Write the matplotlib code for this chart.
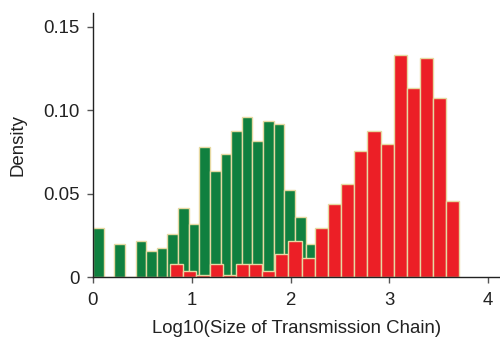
import numpy as np
import matplotlib.pyplot as plt

plt.rcParams['font.family'] = ['Liberation Sans', 'DejaVu Sans']

# green histogram: 21 bins over [0, 2.26]
green_edges = np.linspace(0, 2.26, 22)
green_vals = [0.0294, 0.0, 0.0196, 0.0, 0.0214, 0.0156, 0.0176, 0.0258, 0.0414,
              0.0318, 0.0776, 0.0636, 0.0736, 0.0876, 0.0956, 0.0816, 0.0936,
              0.0916, 0.052, 0.036, 0.020]

# red histogram: 22 bins over [0.78, 3.71]
red_edges = np.linspace(0.78, 3.71, 23)
red_vals = [0.0076, 0.0036, 0.0014, 0.0076, 0.0014, 0.0076, 0.0076, 0.0036,
            0.0136, 0.0216, 0.0116, 0.0296, 0.0436, 0.0554, 0.0754, 0.0874,
            0.0794, 0.1332, 0.1132, 0.1312, 0.1072, 0.0456]

xticks = [0, 1, 2, 3, 4]
yticks = [0, 0.05, 0.10, 0.15]
ytick_labels = ['0', '0.05', '0.10', '0.15']

fig = plt.figure(figsize=(5, 3.37), dpi=100)
ax = fig.add_axes([0.186, 0.178, 0.814, 0.783])

edge = '#e6d9a2'
ax.bar(green_edges[:-1], green_vals, width=np.diff(green_edges), align='edge',
       color='#10803f', edgecolor=edge, linewidth=1)
ax.bar(red_edges[:-1], red_vals, width=np.diff(red_edges), align='edge',
       color='#ec1f26', edgecolor=edge, linewidth=1)

ax.set_xlim(0, 4.12)
ax.set_ylim(0, 0.158)
ax.set_xticks(xticks)
ax.set_yticks(yticks)
ax.set_yticklabels(ytick_labels)

for s in ['top', 'right']:
    ax.spines[s].set_visible(False)
for s in ['left', 'bottom']:
    ax.spines[s].set_color('#222222')
    ax.spines[s].set_linewidth(1)
ax.tick_params(direction='out', length=4, width=1, color='#555555',
               labelsize=13.4, labelcolor='#222222')
ax.tick_params(axis='x', pad=6.5)
ax.tick_params(axis='y', pad=5.5)

ax.set_xlabel('Log10(Size of Transmission Chain)', fontsize=13.4,
              color='#222222', labelpad=8)
ax.set_ylabel('Density', fontsize=13.4, color='#222222', labelpad=12)

fig.savefig('out.png', dpi=100)
